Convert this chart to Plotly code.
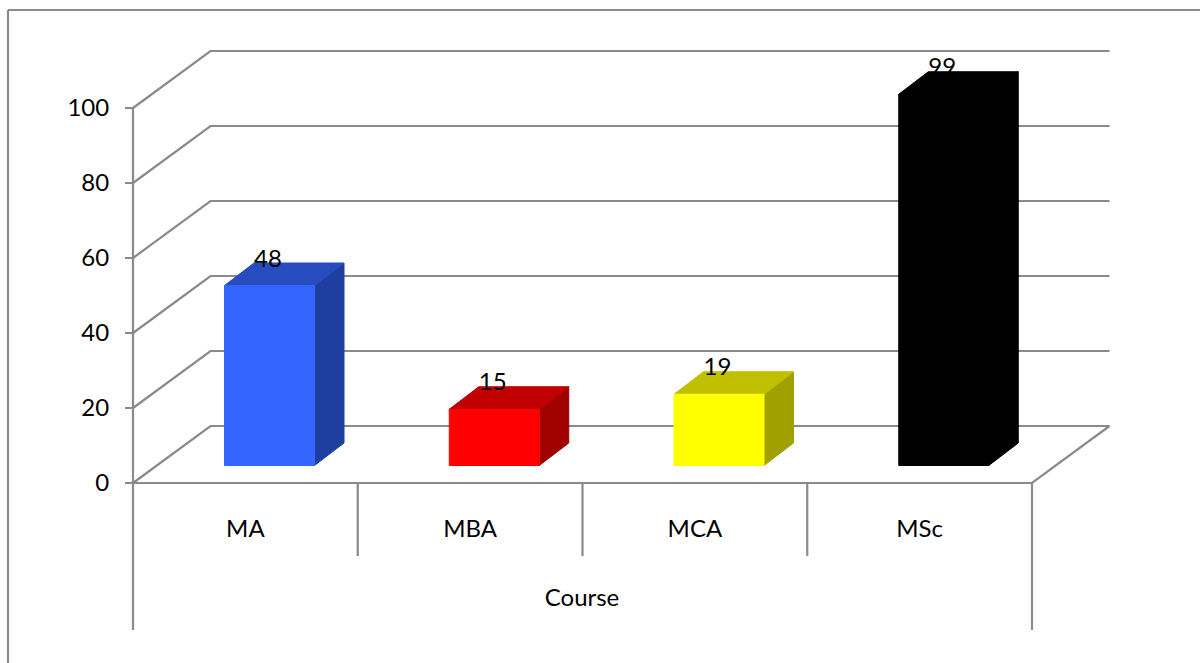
import plotly.graph_objects as go

categories = ["MA", "MBA", "MCA", "MSc"]
values = [48, 15, 19, 99]
y_ticks = [0, 20, 40, 60, 80, 100]
front_colors = ["#3366FF", "#FF0000", "#FFFF00", "#000000"]
top_colors = ["#264CC0", "#C00000", "#C0C000", "#000000"]
side_colors = ["#1F3FA0", "#A00000", "#A0A000", "#000000"]
axis_title = "Course"

W, H = 1200, 663
PX_X = 224.75      # pixels per category
PX_Y = 3.75        # pixels per value unit
X0_PX, Y0_PX = 133, 483
GRID = "#8A8A8A"
FONT = "Lato"
FS = 24
X_DOMAIN_END = 0.97   # axis title is centred on the axis domain

px = lambda p: p / PX_X
py = lambda p: p / PX_Y
DX, DY = px(77.5), py(57)       # depth of the floor / back wall
BX, BY = px(29.5), py(22.5)     # depth of a bar
BAR_L, BAR_W = px(91.5), px(90) # left offset and width of a bar front
FLOOR = py(17.5)                # bar base above the value zero line
LABEL_UP = py(25)
AXIS_BOTTOM = py(483 - 630)
SEP_BOTTOM = py(483 - 556)
n = len(categories)

fig = go.Figure()


def line(xs, ys):
    fig.add_trace(go.Scatter(x=xs, y=ys, mode="lines", showlegend=False, hoverinfo="skip",
                             line=dict(color=GRID, width=2.2), cliponaxis=False))


def face(xs, ys, color):
    fig.add_trace(go.Scatter(x=xs, y=ys, mode="lines", fill="toself", fillcolor=color,
                             line=dict(color=color, width=1), showlegend=False, hoverinfo="skip",
                             cliponaxis=False))


# back wall, side wall and floor
for t in y_ticks:
    line([0, DX, n + DX], [t, t + DY, t + DY])
line([0, n, n + DX], [0, 0, DY])
line([0, 0], [AXIS_BOTTOM, y_ticks[-1]])
line([n, n], [AXIS_BOTTOM, 0])
for i in range(1, n):
    line([i, i], [SEP_BOTTOM, 0])

# bars
for i, v in enumerate(values):
    l, r = i + BAR_L, i + BAR_L + BAR_W
    b, t = FLOOR, FLOOR + v
    face([r, r + BX, r + BX, r, r], [b, b + BY, t + BY, t, b], side_colors[i])
    face([l, l + BX, r + BX, r, l], [t, t + BY, t + BY, t, t], top_colors[i])
    face([l, r, r, l, l], [b, b, t, t, b], front_colors[i])

# data labels
fig.add_trace(go.Scatter(
    x=[i + BAR_L + BAR_W / 2 - px(1.5) for i in range(n)],
    y=[FLOOR + v + LABEL_UP for v in values],
    text=[str(v) for v in values], mode="text", textposition="middle center",
    textfont=dict(family=FONT, size=FS, color="#000000"),
    showlegend=False, hoverinfo="skip", cliponaxis=False))

fig.update_layout(
    width=W, height=H, margin=dict(l=0, r=0, t=0, b=0),
    paper_bgcolor="#FFFFFF", plot_bgcolor="#FFFFFF", showlegend=False,
    font=dict(family=FONT, size=FS, color="#000000"),
    xaxis=dict(range=[px(-X0_PX), px(W * X_DOMAIN_END - X0_PX)], domain=[0, X_DOMAIN_END], anchor="free",
               position=(H - Y0_PX) / H, showgrid=False, zeroline=False, showline=False,
               tickmode="array", tickvals=[i + 0.5 for i in range(n)], ticktext=categories,
               ticks="", ticklabelstandoff=29,
               tickfont=dict(family=FONT, size=FS, color="#000000"),
               title=dict(text=axis_title, standoff=48,
                          font=dict(family=FONT, size=FS, color="#000000"))),
    yaxis=dict(range=[py(Y0_PX - H), py(Y0_PX)], domain=[0, 1], anchor="free",
               position=X0_PX / W, showgrid=False, zeroline=False, showline=False,
               tickmode="array", tickvals=y_ticks, ticktext=[str(t) for t in y_ticks],
               ticks="outside", ticklen=8, tickwidth=2, tickcolor=GRID,
               ticklabelstandoff=11,
               tickfont=dict(family=FONT, size=FS, color="#000000")),
    shapes=[
        dict(type="line", xref="paper", yref="paper", x0=8 / W, x1=1, y0=1 - 10 / H, y1=1 - 10 / H,
             line=dict(color=GRID, width=2.2)),
        dict(type="line", xref="paper", yref="paper", x0=8 / W, x1=8 / W, y0=0, y1=1 - 10 / H,
             line=dict(color=GRID, width=2.2)),
    ],
)

fig.write_html("out.html", config={"displayModeBar": False},
               post_script="document.body.style.margin='0';document.body.style.overflow='hidden';")
